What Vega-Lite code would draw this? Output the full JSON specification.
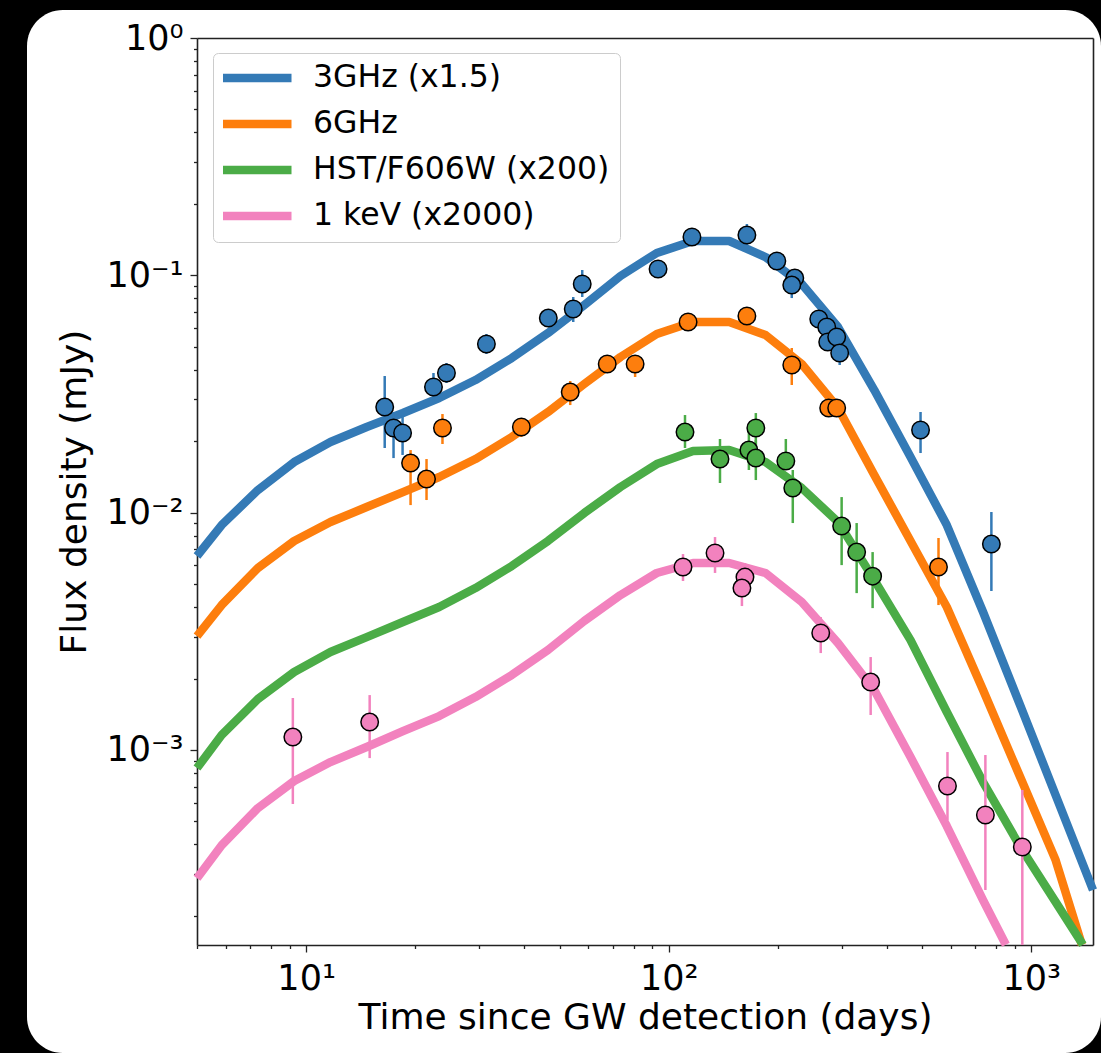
{
  "$schema": "https://vega.github.io/schema/vega-lite/v6.json",
  "width": 1074,
  "height": 1043,
  "autosize": "none",
  "padding": {"left": 27, "top": 10, "right": 0, "bottom": 0},
  "background": "#000000",
  "config": {
    "view": {"fill": "#ffffff", "stroke": null, "cornerRadius": 36},
    "font": "DejaVu Sans",
    "axis": {"grid": false, "labelColor": "#000000", "titleColor": "#000000", "domainColor": "#222222", "tickColor": "#222222", "domainWidth": 1.6, "tickWidth": 1.3}
  },
  "datasets": {
    "curves": [
      {"band": "3GHz (x1.5)", "t": 5, "flux": 0.006566},
      {"band": "3GHz (x1.5)", "t": 5.848, "flux": 0.008867},
      {"band": "3GHz (x1.5)", "t": 7.362, "flux": 0.012453},
      {"band": "3GHz (x1.5)", "t": 9.268, "flux": 0.01634},
      {"band": "3GHz (x1.5)", "t": 11.668, "flux": 0.019838},
      {"band": "3GHz (x1.5)", "t": 14.689, "flux": 0.022947},
      {"band": "3GHz (x1.5)", "t": 18.493, "flux": 0.026289},
      {"band": "3GHz (x1.5)", "t": 23.281, "flux": 0.030409},
      {"band": "3GHz (x1.5)", "t": 29.309, "flux": 0.036208},
      {"band": "3GHz (x1.5)", "t": 36.898, "flux": 0.044826},
      {"band": "3GHz (x1.5)", "t": 46.452, "flux": 0.057121},
      {"band": "3GHz (x1.5)", "t": 58.479, "flux": 0.074943},
      {"band": "3GHz (x1.5)", "t": 73.621, "flux": 0.099334},
      {"band": "3GHz (x1.5)", "t": 92.683, "flux": 0.124165},
      {"band": "3GHz (x1.5)", "t": 116.68, "flux": 0.139508},
      {"band": "3GHz (x1.5)", "t": 146.89, "flux": 0.139508},
      {"band": "3GHz (x1.5)", "t": 184.93, "flux": 0.119432},
      {"band": "3GHz (x1.5)", "t": 232.81, "flux": 0.091896},
      {"band": "3GHz (x1.5)", "t": 293.09, "flux": 0.060548},
      {"band": "3GHz (x1.5)", "t": 368.98, "flux": 0.032861},
      {"band": "3GHz (x1.5)", "t": 464.52, "flux": 0.017149},
      {"band": "3GHz (x1.5)", "t": 584.79, "flux": 0.008867},
      {"band": "3GHz (x1.5)", "t": 736.21, "flux": 0.003813},
      {"band": "3GHz (x1.5)", "t": 926.83, "flux": 0.001576},
      {"band": "3GHz (x1.5)", "t": 1166.8, "flux": 0.000646},
      {"band": "3GHz (x1.5)", "t": 1480, "flux": 0.000257},
      {"band": "6GHz", "t": 5, "flux": 0.00302},
      {"band": "6GHz", "t": 5.848, "flux": 0.00408},
      {"band": "6GHz", "t": 7.362, "flux": 0.005843},
      {"band": "6GHz", "t": 9.268, "flux": 0.007595},
      {"band": "6GHz", "t": 11.668, "flux": 0.00913},
      {"band": "6GHz", "t": 14.689, "flux": 0.010558},
      {"band": "6GHz", "t": 18.493, "flux": 0.012209},
      {"band": "6GHz", "t": 23.281, "flux": 0.014128},
      {"band": "6GHz", "t": 29.309, "flux": 0.016823},
      {"band": "6GHz", "t": 36.898, "flux": 0.020827},
      {"band": "6GHz", "t": 46.452, "flux": 0.026546},
      {"band": "6GHz", "t": 58.479, "flux": 0.034834},
      {"band": "6GHz", "t": 73.621, "flux": 0.045262},
      {"band": "6GHz", "t": 92.683, "flux": 0.056571},
      {"band": "6GHz", "t": 116.68, "flux": 0.063547},
      {"band": "6GHz", "t": 146.89, "flux": 0.063547},
      {"band": "6GHz", "t": 184.93, "flux": 0.056014},
      {"band": "6GHz", "t": 232.81, "flux": 0.042296},
      {"band": "6GHz", "t": 293.09, "flux": 0.027594},
      {"band": "6GHz", "t": 368.98, "flux": 0.014404},
      {"band": "6GHz", "t": 464.52, "flux": 0.007595},
      {"band": "6GHz", "t": 584.79, "flux": 0.004001},
      {"band": "6GHz", "t": 736.21, "flux": 0.001788},
      {"band": "6GHz", "t": 926.83, "flux": 0.000784},
      {"band": "6GHz", "t": 1166.8, "flux": 0.000344},
      {"band": "6GHz", "t": 1379, "flux": 0.000151},
      {"band": "HST/F606W (x200)", "t": 5, "flux": 0.000839},
      {"band": "HST/F606W (x200)", "t": 5.848, "flux": 0.001156},
      {"band": "HST/F606W (x200)", "t": 7.362, "flux": 0.001639},
      {"band": "HST/F606W (x200)", "t": 9.268, "flux": 0.00213},
      {"band": "HST/F606W (x200)", "t": 11.668, "flux": 0.002586},
      {"band": "HST/F606W (x200)", "t": 14.689, "flux": 0.00299},
      {"band": "HST/F606W (x200)", "t": 18.493, "flux": 0.003459},
      {"band": "HST/F606W (x200)", "t": 23.281, "flux": 0.004001},
      {"band": "HST/F606W (x200)", "t": 29.309, "flux": 0.004812},
      {"band": "HST/F606W (x200)", "t": 36.898, "flux": 0.005957},
      {"band": "HST/F606W (x200)", "t": 46.452, "flux": 0.007595},
      {"band": "HST/F606W (x200)", "t": 58.479, "flux": 0.009961},
      {"band": "HST/F606W (x200)", "t": 73.621, "flux": 0.012824},
      {"band": "HST/F606W (x200)", "t": 92.683, "flux": 0.016023},
      {"band": "HST/F606W (x200)", "t": 116.68, "flux": 0.018177},
      {"band": "HST/F606W (x200)", "t": 146.89, "flux": 0.018354},
      {"band": "HST/F606W (x200)", "t": 184.93, "flux": 0.01634},
      {"band": "HST/F606W (x200)", "t": 232.81, "flux": 0.012701},
      {"band": "HST/F606W (x200)", "t": 293.09, "flux": 0.00913},
      {"band": "HST/F606W (x200)", "t": 368.98, "flux": 0.0052},
      {"band": "HST/F606W (x200)", "t": 464.52, "flux": 0.002904},
      {"band": "HST/F606W (x200)", "t": 584.79, "flux": 0.001445},
      {"band": "HST/F606W (x200)", "t": 736.21, "flux": 0.000732},
      {"band": "HST/F606W (x200)", "t": 926.83, "flux": 0.000397},
      {"band": "HST/F606W (x200)", "t": 1166.8, "flux": 0.000229},
      {"band": "HST/F606W (x200)", "t": 1388, "flux": 0.000151},
      {"band": "1 keV (x2000)", "t": 5, "flux": 0.000288},
      {"band": "1 keV (x2000)", "t": 5.848, "flux": 0.000397},
      {"band": "1 keV (x2000)", "t": 7.362, "flux": 0.000569},
      {"band": "1 keV (x2000)", "t": 9.268, "flux": 0.00074},
      {"band": "1 keV (x2000)", "t": 11.668, "flux": 0.000889},
      {"band": "1 keV (x2000)", "t": 14.689, "flux": 0.001029},
      {"band": "1 keV (x2000)", "t": 18.493, "flux": 0.001201},
      {"band": "1 keV (x2000)", "t": 23.281, "flux": 0.001389},
      {"band": "1 keV (x2000)", "t": 29.309, "flux": 0.001671},
      {"band": "1 keV (x2000)", "t": 36.898, "flux": 0.002068},
      {"band": "1 keV (x2000)", "t": 46.452, "flux": 0.002636},
      {"band": "1 keV (x2000)", "t": 58.479, "flux": 0.003493},
      {"band": "1 keV (x2000)", "t": 73.621, "flux": 0.004496},
      {"band": "1 keV (x2000)", "t": 92.683, "flux": 0.005567},
      {"band": "1 keV (x2000)", "t": 116.68, "flux": 0.006133},
      {"band": "1 keV (x2000)", "t": 146.89, "flux": 0.006133},
      {"band": "1 keV (x2000)", "t": 184.93, "flux": 0.005567},
      {"band": "1 keV (x2000)", "t": 232.81, "flux": 0.0042},
      {"band": "1 keV (x2000)", "t": 293.09, "flux": 0.002821},
      {"band": "1 keV (x2000)", "t": 368.98, "flux": 0.001788},
      {"band": "1 keV (x2000)", "t": 464.52, "flux": 0.000934},
      {"band": "1 keV (x2000)", "t": 584.79, "flux": 0.000478},
      {"band": "1 keV (x2000)", "t": 736.21, "flux": 0.000233},
      {"band": "1 keV (x2000)", "t": 851, "flux": 0.000151}
    ],
    "obs": [
      {"band": "3GHz (x1.5)", "t": 16.47, "flux": 0.02786, "lo": 0.01872, "hi": 0.03764},
      {"band": "3GHz (x1.5)", "t": 17.42, "flux": 0.02273, "lo": 0.01698, "hi": 0.02655},
      {"band": "3GHz (x1.5)", "t": 18.45, "flux": 0.02165, "lo": 0.0175, "hi": 0.02578},
      {"band": "3GHz (x1.5)", "t": 22.45, "flux": 0.03383, "lo": 0.02897, "hi": 0.03876},
      {"band": "3GHz (x1.5)", "t": 24.38, "flux": 0.03876, "lo": 0.03517, "hi": 0.04272},
      {"band": "3GHz (x1.5)", "t": 31.42, "flux": 0.05135, "lo": 0.04661, "hi": 0.05657},
      {"band": "3GHz (x1.5)", "t": 46.55, "flux": 0.06607, "lo": 0.06233, "hi": 0.07005},
      {"band": "3GHz (x1.5)", "t": 54.54, "flux": 0.07211, "lo": 0.06357, "hi": 0.08101},
      {"band": "3GHz (x1.5)", "t": 57.74, "flux": 0.09191, "lo": 0.08101, "hi": 0.1053},
      {"band": "3GHz (x1.5)", "t": 93.46, "flux": 0.1063, "lo": 0.1013, "hi": 0.1116},
      {"band": "3GHz (x1.5)", "t": 115.9, "flux": 0.145, "lo": 0.1381, "hi": 0.1522},
      {"band": "3GHz (x1.5)", "t": 164.3, "flux": 0.1478, "lo": 0.1342, "hi": 0.1645},
      {"band": "3GHz (x1.5)", "t": 198.7, "flux": 0.1149, "lo": 0.1074, "hi": 0.1218},
      {"band": "3GHz (x1.5)", "t": 222.7, "flux": 0.0974, "lo": 0.0901, "hi": 0.1053},
      {"band": "3GHz (x1.5)", "t": 218.5, "flux": 0.091, "lo": 0.0802, "hi": 0.1003},
      {"band": "3GHz (x1.5)", "t": 259.3, "flux": 0.06547, "lo": 0.06114, "hi": 0.07005},
      {"band": "3GHz (x1.5)", "t": 272.8, "flux": 0.06055, "lo": 0.05657, "hi": 0.06483},
      {"band": "3GHz (x1.5)", "t": 274.5, "flux": 0.05236, "lo": 0.04939, "hi": 0.05548},
      {"band": "3GHz (x1.5)", "t": 290.6, "flux": 0.05495, "lo": 0.05085, "hi": 0.05883},
      {"band": "3GHz (x1.5)", "t": 296.2, "flux": 0.04706, "lo": 0.04188, "hi": 0.05185},
      {"band": "3GHz (x1.5)", "t": 495.0, "flux": 0.02229, "lo": 0.01783, "hi": 0.02655},
      {"band": "3GHz (x1.5)", "t": 776.2, "flux": 0.007374, "lo": 0.004674, "hi": 0.01006},
      {"band": "6GHz", "t": 19.41, "flux": 0.01618, "lo": 0.01076, "hi": 0.01835},
      {"band": "6GHz", "t": 21.48, "flux": 0.01385, "lo": 0.0113, "hi": 0.01682},
      {"band": "6GHz", "t": 23.77, "flux": 0.02273, "lo": 0.01946, "hi": 0.02603},
      {"band": "6GHz", "t": 39.23, "flux": 0.02295, "lo": 0.02083, "hi": 0.0248},
      {"band": "6GHz", "t": 53.5, "flux": 0.03222, "lo": 0.0284, "hi": 0.03586},
      {"band": "6GHz", "t": 67.67, "flux": 0.04229, "lo": 0.04069, "hi": 0.04396},
      {"band": "6GHz", "t": 80.79, "flux": 0.04229, "lo": 0.03728, "hi": 0.04615},
      {"band": "6GHz", "t": 113.1, "flux": 0.06357, "lo": 0.0616, "hi": 0.0656},
      {"band": "6GHz", "t": 164.3, "flux": 0.06738, "lo": 0.0645, "hi": 0.0703},
      {"band": "6GHz", "t": 218.5, "flux": 0.04188, "lo": 0.03449, "hi": 0.04939},
      {"band": "6GHz", "t": 276.2, "flux": 0.0276, "lo": 0.0263, "hi": 0.029},
      {"band": "6GHz", "t": 290.6, "flux": 0.0276, "lo": 0.0263, "hi": 0.029},
      {"band": "6GHz", "t": 554.8, "flux": 0.005899, "lo": 0.004079, "hi": 0.00782},
      {"band": "HST/F606W (x200)", "t": 110.9, "flux": 0.02186, "lo": 0.01872, "hi": 0.02578},
      {"band": "HST/F606W (x200)", "t": 138.5, "flux": 0.01682, "lo": 0.01333, "hi": 0.02043},
      {"band": "HST/F606W (x200)", "t": 166.4, "flux": 0.01835, "lo": 0.01512, "hi": 0.02229},
      {"band": "HST/F606W (x200)", "t": 173.9, "flux": 0.02273, "lo": 0.01927, "hi": 0.02628},
      {"band": "HST/F606W (x200)", "t": 173.9, "flux": 0.01698, "lo": 0.01372, "hi": 0.02023},
      {"band": "HST/F606W (x200)", "t": 210.4, "flux": 0.0165, "lo": 0.01512, "hi": 0.02043},
      {"band": "HST/F606W (x200)", "t": 219.9, "flux": 0.0127, "lo": 0.00904, "hi": 0.01512},
      {"band": "HST/F606W (x200)", "t": 299.9, "flux": 0.00878, "lo": 0.00601, "hi": 0.01163},
      {"band": "HST/F606W (x200)", "t": 329.9, "flux": 0.00682, "lo": 0.00458, "hi": 0.00904},
      {"band": "HST/F606W (x200)", "t": 365.1, "flux": 0.0054, "lo": 0.00396, "hi": 0.00682},
      {"band": "1 keV (x2000)", "t": 9.19, "flux": 0.001133, "lo": 0.000592, "hi": 0.001655},
      {"band": "1 keV (x2000)", "t": 14.97, "flux": 0.001311, "lo": 0.000924, "hi": 0.001703},
      {"band": "1 keV (x2000)", "t": 109.5, "flux": 0.0059, "lo": 0.00515, "hi": 0.00669},
      {"band": "1 keV (x2000)", "t": 134.2, "flux": 0.00676, "lo": 0.00557, "hi": 0.00789},
      {"band": "1 keV (x2000)", "t": 162.3, "flux": 0.00535, "lo": 0.00475, "hi": 0.00613},
      {"band": "1 keV (x2000)", "t": 159.2, "flux": 0.00481, "lo": 0.00404, "hi": 0.0055},
      {"band": "1 keV (x2000)", "t": 262.6, "flux": 0.00311, "lo": 0.00256, "hi": 0.00363},
      {"band": "1 keV (x2000)", "t": 360.6, "flux": 0.001932, "lo": 0.001404, "hi": 0.002463},
      {"band": "1 keV (x2000)", "t": 587.3, "flux": 0.000705, "lo": 0.000507, "hi": 0.00098},
      {"band": "1 keV (x2000)", "t": 747.2, "flux": 0.000532, "lo": 0.000257, "hi": 0.000952},
      {"band": "1 keV (x2000)", "t": 944.7, "flux": 0.00039, "lo": 0.0001507, "hi": 0.000678}
    ]
  },
  "layer": [
    {
      "data": {"name": "curves"},
      "mark": {"type": "line", "strokeWidth": 8.5, "strokeJoin": "round", "strokeCap": "butt"},
      "encoding": {
        "x": {
          "field": "t", "type": "quantitative",
          "scale": {"type": "log", "domain": [5, 1480], "range": [170, 1066], "nice": false},
          "axis": {
            "orient": "bottom", "offset": -108,
            "values": [5, 6, 7, 8, 9, 10, 20, 30, 40, 50, 60, 70, 80, 90, 100, 200, 300, 400, 500, 600, 700, 800, 900, 1000],
            "labelExpr": "abs(log(datum.value)/LN10 - round(log(datum.value)/LN10)) < 0.001 ? (round(log(datum.value)/LN10) == 1 ? '10¹' : round(log(datum.value)/LN10) == 2 ? '10²' : '10³') : ''",
            "tickSize": {"condition": {"test": "abs(log(datum.value)/LN10 - round(log(datum.value)/LN10)) < 0.001", "value": 7}, "value": 3.5},
            "labelFontSize": 35, "labelPadding": 9, "labelOverlap": false, "labelFlush": false, "labelBound": false,
            "title": "Time since GW detection (days)", "titleFontSize": 36, "titleFontWeight": "normal", "titlePadding": 4
          }
        },
        "y": {
          "field": "flux", "type": "quantitative",
          "scale": {"type": "log", "domain": [0.0001507, 1], "range": [935, 28], "nice": false},
          "axis": {
            "orient": "left", "offset": -170,
            "values": [0.0002, 0.0003, 0.0004, 0.0005, 0.0006, 0.0007, 0.0008, 0.0009, 0.001, 0.002, 0.003, 0.004, 0.005, 0.006, 0.007, 0.008, 0.009, 0.01, 0.02, 0.03, 0.04, 0.05, 0.06, 0.07, 0.08, 0.09, 0.1, 0.2, 0.3, 0.4, 0.5, 0.6, 0.7, 0.8, 0.9, 1],
            "labelExpr": "abs(log(datum.value)/LN10 - round(log(datum.value)/LN10)) < 0.001 ? (round(log(datum.value)/LN10) == 0 ? '10⁰' : round(log(datum.value)/LN10) == -1 ? '10⁻¹' : round(log(datum.value)/LN10) == -2 ? '10⁻²' : '10⁻³') : ''",
            "tickSize": {"condition": {"test": "abs(log(datum.value)/LN10 - round(log(datum.value)/LN10)) < 0.001", "value": 7}, "value": 3.5},
            "labelFontSize": 35, "labelPadding": 7, "labelOverlap": false, "labelFlush": false, "labelBound": false,
            "title": "Flux density (mJy)", "titleFontSize": 36, "titleFontWeight": "normal", "titlePadding": 12
          }
        },
        "color": {
          "field": "band", "type": "nominal",
          "scale": {"domain": ["3GHz (x1.5)", "6GHz", "HST/F606W (x200)", "1 keV (x2000)"], "range": ["#347ab6", "#fd7e0d", "#4bac47", "#f282be"]},
          "legend": {
            "title": null, "orient": "none", "legendX": 186, "legendY": 43,
            "symbolType": "stroke", "symbolSize": 4900, "symbolStrokeWidth": 8.5, "symbolOffset": -6,
            "labelFontSize": 31.5, "labelColor": "#000000", "labelLimit": 0, "labelOffset": 17,
            "padding": 10, "rowPadding": 14, "clipHeight": 30,
            "strokeColor": "#cccccc", "fillColor": "#ffffff", "cornerRadius": 5
          }
        }
      }
    },
    {
      "data": {"name": "obs"},
      "mark": {"type": "rule", "strokeWidth": 2.5},
      "encoding": {
        "x": {"field": "t", "type": "quantitative", "axis": {"orient": "top", "offset": -28, "labels": false, "ticks": false, "title": null, "domain": true}},
        "y": {"field": "lo", "type": "quantitative", "axis": {"orient": "right", "offset": -8, "labels": false, "ticks": false, "title": null, "domain": true}},
        "y2": {"field": "hi"},
        "color": {"field": "band", "type": "nominal", "legend": null}
      }
    },
    {
      "data": {"name": "obs"},
      "mark": {"type": "point", "shape": "circle", "filled": true, "size": 306, "stroke": "#000000", "strokeWidth": 1.5, "opacity": 1},
      "encoding": {
        "x": {"field": "t", "type": "quantitative", "axis": null},
        "y": {"field": "flux", "type": "quantitative", "axis": null},
        "fill": {"field": "band", "type": "nominal", "scale": {"domain": ["3GHz (x1.5)", "6GHz", "HST/F606W (x200)", "1 keV (x2000)"], "range": ["#347ab6", "#fd7e0d", "#4bac47", "#f282be"]}, "legend": null}
      }
    }
  ],
  "resolve": {"axis": {"x": "independent", "y": "independent"}}
}
